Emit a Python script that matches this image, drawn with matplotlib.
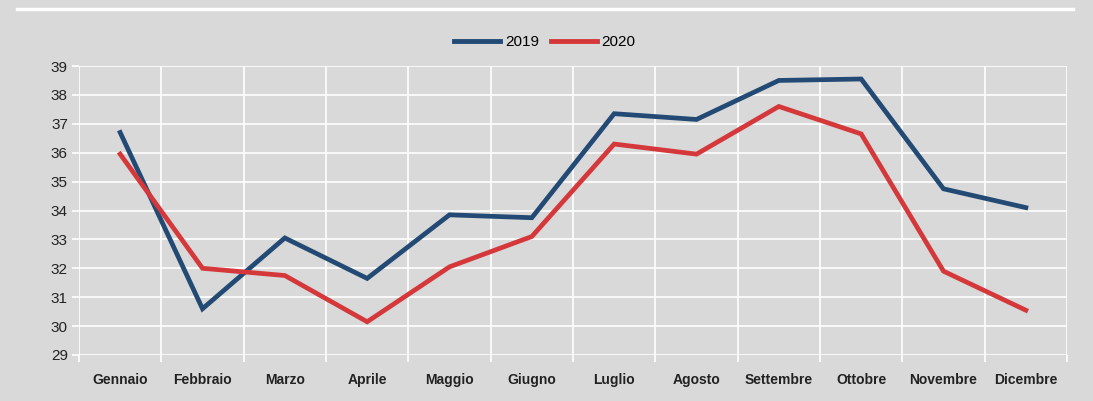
import numpy as np
import matplotlib.pyplot as plt
from matplotlib.lines import Line2D

mesi = ["Gennaio", "Febbraio", "Marzo", "Aprile", "Maggio", "Giugno",
        "Luglio", "Agosto", "Settembre", "Ottobre", "Novembre", "Dicembre"]
v2019 = [36.7, 30.6, 33.05, 31.65, 33.85, 33.75, 37.35, 37.15, 38.5, 38.55, 34.75, 34.1]
v2020 = [35.95, 32.0, 31.75, 30.15, 32.05, 33.1, 36.3, 35.95, 37.6, 36.65, 31.9, 30.55]

bg = "#d9d9d9"
blu = "#234a74"
rosso = "#d5383a"

fig = plt.figure(figsize=(10.93, 4.01), dpi=100, facecolor=bg)
ax = fig.add_axes([79/1093, 1 - 355/401, 988/1093, 289/401])
ax.set_facecolor(bg)

x = np.arange(len(mesi))
ax.plot(x, v2019, color=blu, lw=3.4, solid_joinstyle="miter", label="2019", zorder=3)
ax.plot(x, v2020, color=rosso, lw=3.4, solid_joinstyle="miter", label="2020", zorder=3)

ax.set_xlim(-0.5, len(mesi) - 0.5)
ax.set_ylim(29, 39)
ax.set_yticks(range(29, 40))
ax.set_xticks(x)
ax.set_xticklabels(mesi)
ax.set_xticks(np.arange(-0.5, len(mesi)), minor=True)

ax.grid(axis="y", color="white", lw=1.2)
ax.grid(axis="x", which="minor", color="white", lw=1.2)
for s in ax.spines.values():
    s.set_visible(False)

ax.tick_params(axis="x", which="major", length=0, pad=13)
ax.tick_params(axis="x", which="minor", length=5, color="white", width=1.2)
ax.tick_params(axis="y", length=5, color="white", width=1.2, pad=3)
for lab in ax.get_xticklabels():
    lab.set_fontweight("bold")
    lab.set_fontsize(10)
    lab.set_color("#222222")
    lab.set_family("Liberation Sans")
for lab in ax.get_yticklabels():
    lab.set_fontsize(11)
    lab.set_color("#222222")
    lab.set_family("Liberation Sans")

leg = fig.legend(handles=[Line2D([], [], color=blu, lw=3.5, label="2019"),
                          Line2D([], [], color=rosso, lw=3.5, label="2020")],
                 loc="center", bbox_to_anchor=(545/1093, 1 - 42/401), ncol=2,
                 frameon=False, handlelength=3.0, handletextpad=0.3,
                 columnspacing=0.8, prop={"family": "Liberation Sans", "size": 11})

fig.add_artist(Line2D([17/1093, 1073/1093], [1 - 9/401, 1 - 9/401],
                      color="white", lw=2.5, transform=fig.transFigure))

fig.savefig("out.png", dpi=100, facecolor=bg)
